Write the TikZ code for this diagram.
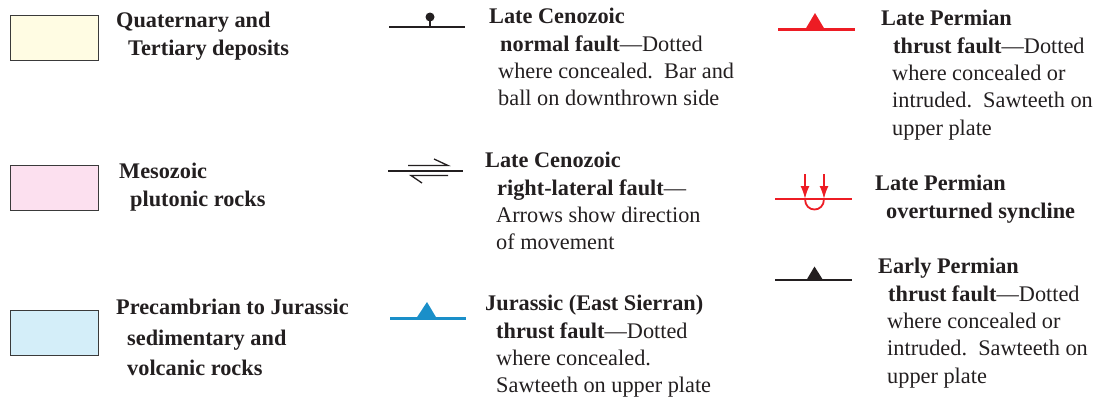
\documentclass[tikz,border=0pt]{standalone}
\usepackage{fontspec}
\setmainfont{Liberation Serif}
\usetikzlibrary{arrows.meta}
\definecolor{ink}{HTML}{231F20}
\definecolor{boxline}{HTML}{3A3A3A}
\definecolor{qtfill}{HTML}{FFFCE3}
\definecolor{mzfill}{HTML}{FCE0EF}
\definecolor{pcfill}{HTML}{D4EEF9}
\definecolor{jblue}{HTML}{1A8FC9}
\definecolor{pred}{HTML}{ED1C24}
\begin{document}
\begin{tikzpicture}[x=1pt,y=-1pt,
  lbl/.style={anchor=north west, align=left, inner sep=0pt, text=ink,
    font=\fontsize{22.3}{27.4}\selectfont},
  unitbox/.style={draw=boxline, line width=1pt, minimum width=88pt,
    minimum height=45pt, inner sep=0pt, anchor=north west},
  faultline/.style={line width=2.6pt},
  thin/.style={line width=1.3pt},
]
\useasboundingbox (0,0) rectangle (1103,400);

% map unit boxes
\node[unitbox, fill=qtfill] (b1) at (10,15) {};
\node[unitbox, fill=mzfill] (b2) at (10,165) {};
\node[unitbox, fill=pcfill] (b3) at (10,310) {};

% unit labels
\node[lbl] (t1) at (116,12) {\textbf{Quaternary and}\\\hspace*{12pt}\textbf{Tertiary deposits}};
\node[lbl] (t2) at (119,163) {\textbf{Mesozoic}\\\hspace*{11pt}\textbf{plutonic rocks}};
\node[lbl, font=\fontsize{22.3}{30.5}\selectfont] (t3) at (116,299) {\textbf{Precambrian to Jurassic}\\\hspace*{11pt}\textbf{sedimentary and}\\\hspace*{11pt}\textbf{volcanic rocks}};

% fault labels
\node[lbl] (t4) at (489,8) {\textbf{Late Cenozoic}\\\hspace*{11pt}\textbf{normal fault}---Dotted\\\hspace*{9pt}where concealed.\ \ Bar and\\\hspace*{9pt}ball on downthrown side};
\node[lbl] (t5) at (485,152) {\textbf{Late Cenozoic}\\\hspace*{12pt}\textbf{right-lateral fault}---\\\hspace*{11pt}Arrows show direction\\\hspace*{11pt}of movement};
\node[lbl] (t6) at (485,295) {\textbf{Jurassic (East Sierran)}\\\hspace*{11pt}\textbf{thrust fault}---Dotted\\\hspace*{11pt}where concealed.\\\hspace*{11pt}Sawteeth on upper plate};
\node[lbl] (t7) at (881,10) {\textbf{Late Permian}\\\hspace*{12pt}\textbf{thrust fault}---Dotted\\\hspace*{11pt}where concealed or\\\hspace*{11pt}intruded.\ \ Sawteeth on\\\hspace*{11pt}upper plate};
\node[lbl] (t8) at (875,175) {\textbf{Late Permian}\\\hspace*{11pt}\textbf{overturned syncline}};
\node[lbl] (t9) at (878,258) {\textbf{Early Permian}\\\hspace*{10pt}\textbf{thrust fault}---Dotted\\\hspace*{9pt}where concealed or\\\hspace*{9pt}intruded.\ \ Sawteeth on\\\hspace*{9pt}upper plate};

% normal fault symbol
\draw[faultline, ink] (389,27) -- (465,27);
\draw[line width=1.4pt, ink] (430,27) -- (430,18);
\fill[ink] (430,17) circle (4.5pt);

% right-lateral fault symbol
\draw[line width=2.8pt, ink] (388,171) -- (463,171);
\draw[thin, ink] (408,165.5) -- (448,165.5) -- (434,159);
\draw[thin, ink] (422,183) -- (411,175.5) -- (448,175.5);

% Jurassic thrust
\draw[jblue, line width=3pt] (390,318) -- (466,318);
\fill[jblue] (416.5,318) -- (427,302) -- (436.5,318) -- cycle;

% Late Permian thrust
\draw[pred, line width=3pt] (778,29) -- (855,29);
\fill[pred] (805.5,29) -- (815,13) -- (824.5,29) -- cycle;

% Late Permian overturned syncline
\draw[pred, line width=2.6pt] (775,199) -- (852,199);
\draw[pred, line width=1.8pt, -{Latex[length=13pt,width=9pt]}] (805,174) -- (805,199);
\draw[pred, line width=1.8pt, -{Latex[length=13pt,width=9pt]}] (824,174) -- (824,199);
\draw[pred, line width=1.8pt] (805,199) .. controls (805,213) and (824,213) .. (824,199);

% Early Permian thrust
\draw[ink, line width=2.6pt] (775,280) -- (852,280);
\fill[ink] (806.5,280) -- (814.5,266.5) -- (823,280) -- cycle;
\end{tikzpicture}
\end{document}
